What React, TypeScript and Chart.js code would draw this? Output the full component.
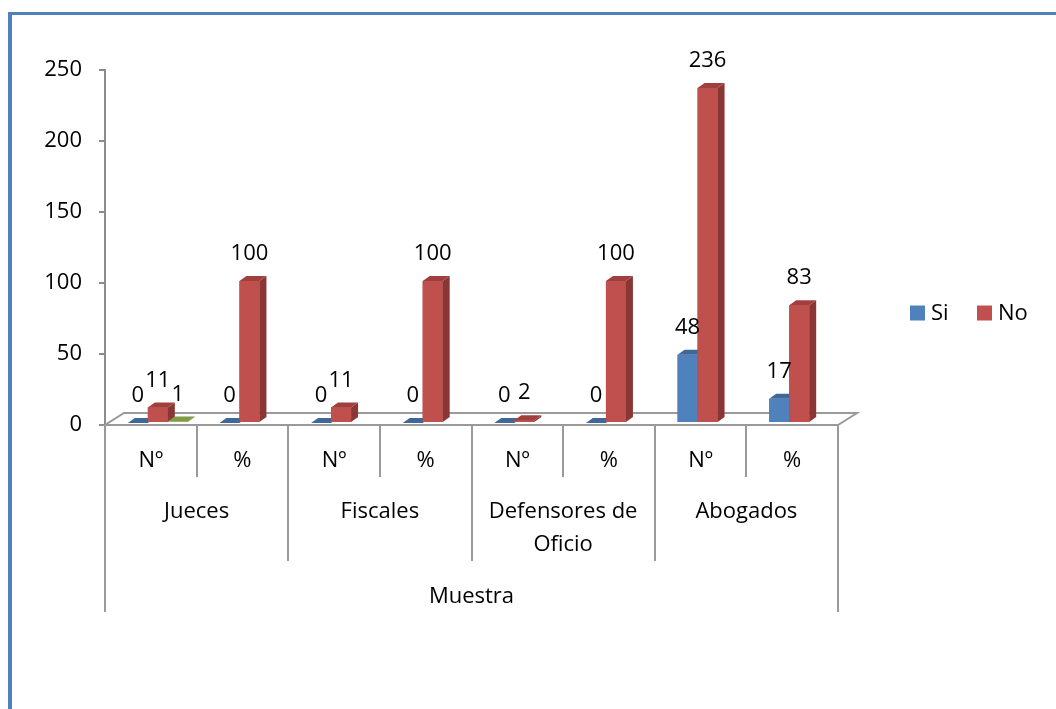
import React, { useEffect, useRef } from "react";
import { Chart, registerables } from "chart.js";

Chart.register(...registerables);

// ---- data ----
const subCategories = ["Nº", "%", "Nº", "%", "Nº", "%", "Nº", "%"];
const groupLabels: string[][] = [["Jueces"], ["Fiscales"], ["Defensores de", "Oficio"], ["Abogados"]];
const topLabel = "Muestra";
const seriesNames = ["Si", "No", ""];
const siValues = [0, 0, 0, 0, 0, 0, 48, 17];
const noValues = [11, 100, 11, 100, 2, 100, 236, 83];
const thirdValues: (number | null)[] = [1, null, null, null, null, null, null, null];
const yMin = 0;
const yMax = 250;
const yStep = 50;

// ---- styles ----
const FONT = '"Open Sans", "Liberation Sans", sans-serif';
const FONT_SIZE = 22;
const AXIS_GRAY = "#8c8c8c";
const faceColors = [
  { front: "#4F81BD", side: "#36598A", top: "#3F6798" },
  { front: "#C0504D", side: "#8A3634", top: "#A0403E" },
  { front: "#9BBB59", side: "#6F8A3C", top: "#7E9B45" },
];
const BAR_DX = 7;
const BAR_DY = -5;
const SHIFT_X = 7;
const SHIFT_Y = -2;
const FLOOR_DX = 19;
const FLOOR_DY = -12;

const threeDPlugin = {
  id: "threeD",
  beforeDatasetsDraw(chart: any) {
    const { ctx, chartArea } = chart;
    const { left, right, bottom } = chartArea;
    ctx.save();
    ctx.beginPath();
    ctx.moveTo(left, bottom);
    ctx.lineTo(right, bottom);
    ctx.lineTo(right + FLOOR_DX, bottom + FLOOR_DY);
    ctx.lineTo(left + FLOOR_DX, bottom + FLOOR_DY);
    ctx.closePath();
    ctx.fillStyle = "#ffffff";
    ctx.fill();
    ctx.strokeStyle = "#9a9a9a";
    ctx.lineWidth = 2;
    ctx.stroke();
    ctx.restore();
    ctx.save();
    ctx.translate(SHIFT_X, SHIFT_Y);
  },
  afterDatasetsDraw(chart: any) {
    const { ctx } = chart;
    const n = chart.data.labels.length;
    const nd = chart.data.datasets.length;
    const tops: { x: number; top: number; v: number }[] = [];
    for (let i = 0; i < n; i++) {
      for (let d = 0; d < nd; d++) {
        const v = chart.data.datasets[d].data[i];
        if (v === null || v === undefined) continue;
        const el = chart.getDatasetMeta(d).data[i];
        if (!el) continue;
        const { x, y, base, width } = el.getProps(["x", "y", "base", "width"], true);
        const l = x - width / 2;
        const r = x + width / 2;
        const top = Math.min(y, base);
        const bot = Math.max(y, base);
        const c = faceColors[d];
        ctx.fillStyle = c.front;
        ctx.fillRect(l, top, r - l, bot - top);
        ctx.beginPath();
        ctx.moveTo(r, top);
        ctx.lineTo(r + BAR_DX, top + BAR_DY);
        ctx.lineTo(r + BAR_DX, bot + BAR_DY);
        ctx.lineTo(r, bot);
        ctx.closePath();
        ctx.fillStyle = c.side;
        ctx.fill();
        ctx.beginPath();
        ctx.moveTo(l, top);
        ctx.lineTo(l + BAR_DX, top + BAR_DY);
        ctx.lineTo(r + BAR_DX, top + BAR_DY);
        ctx.lineTo(r, top);
        ctx.closePath();
        ctx.fillStyle = c.top;
        ctx.fill();
        tops.push({ x, top, v });
      }
    }
    ctx.font = `${FONT_SIZE}px ${FONT}`;
    ctx.fillStyle = "#000";
    ctx.textAlign = "center";
    ctx.textBaseline = "middle";
    for (const t of tops) ctx.fillText(String(t.v), t.x, t.top - 27);
    ctx.restore();
  },
  afterDraw(chart: any) {
    const { ctx, chartArea } = chart;
    const xs = chart.scales.x;
    const n = subCategories.length;
    const bottom = chartArea.bottom;
    const bounds: number[] = [];
    for (let i = 0; i <= n; i++) {
      if (i === 0) bounds.push(xs.left);
      else if (i === n) bounds.push(xs.right);
      else bounds.push((xs.getPixelForValue(i - 1) + xs.getPixelForValue(i)) / 2);
    }
    ctx.save();
    ctx.strokeStyle = "#9a9a9a";
    ctx.lineWidth = 2;
    const perGroup = n / groupLabels.length;
    bounds.forEach((bx, i) => {
      let end = bottom + 52;
      if (i === 0 || i === n) end = bottom + 187;
      else if (i % perGroup === 0) end = bottom + 136;
      ctx.beginPath();
      ctx.moveTo(Math.round(bx), bottom);
      ctx.lineTo(Math.round(bx), end);
      ctx.stroke();
    });
    ctx.font = `${FONT_SIZE}px ${FONT}`;
    ctx.fillStyle = "#000";
    ctx.textAlign = "center";
    ctx.textBaseline = "middle";
    subCategories.forEach((lab, i) => {
      ctx.fillText(lab, xs.getPixelForValue(i), bottom + 36);
    });
    groupLabels.forEach((lines, g) => {
      const cx = (bounds[g * perGroup] + bounds[(g + 1) * perGroup]) / 2;
      lines.forEach((ln, k) => ctx.fillText(ln, cx, bottom + 87 + k * 33));
    });
    ctx.fillText(topLabel, (bounds[0] + bounds[n]) / 2, bottom + 172);

    const lx = chartArea.right + 72;
    const ly = bottom - 112;
    let x = lx;
    ctx.textAlign = "left";
    chart.data.datasets.forEach((ds: any, d: number) => {
      if (!ds.label) return;
      ctx.fillStyle = faceColors[d].front;
      ctx.fillRect(x, ly - 7.5, 15, 15);
      ctx.fillStyle = "#000";
      ctx.fillText(ds.label, x + 21, ly + 1);
      x += 67;
    });
    ctx.restore();
  },
};

export default function App() {
  const ref = useRef<HTMLCanvasElement | null>(null);
  useEffect(() => {
    if (!ref.current) return;
    const chart = new Chart(ref.current, {
      type: "bar",
      data: {
        labels: subCategories,
        datasets: [
          { label: seriesNames[0], data: siValues, backgroundColor: faceColors[0].front },
          { label: seriesNames[1], data: noValues, backgroundColor: faceColors[1].front },
          { label: seriesNames[2], data: thirdValues, backgroundColor: faceColors[2].front },
        ],
      },
      options: {
        responsive: false,
        animation: false,
        layout: { padding: { left: 0, top: 70, right: 218, bottom: 284 } },
        datasets: { bar: { categoryPercentage: 0.655, barPercentage: 1.0 } },
        plugins: { legend: { display: false }, tooltip: { enabled: false } },
        scales: {
          x: { display: false },
          y: {
            min: yMin,
            max: yMax,
            ticks: {
              stepSize: yStep,
              color: "#000",
              font: { family: FONT, size: FONT_SIZE },
              padding: 17,
            },
            grid: {
              drawOnChartArea: false,
              drawTicks: true,
              tickLength: 6,
              color: AXIS_GRAY,
              lineWidth: 2,
            },
            border: { display: true, color: AXIS_GRAY, width: 2 },
            afterFit: (scale: any) => {
              scale.width = 105;
            },
          },
        },
      },
      plugins: [threeDPlugin],
    } as any);
    return () => chart.destroy();
  }, []);
  return (
    <div style={{ position: "absolute", left: 0, top: 0, width: 1056, height: 709, background: "#fff" }}>
      <div
        style={{
          position: "absolute",
          left: 8,
          top: 12,
          right: 0,
          bottom: 0,
          borderLeft: "4px solid #4F81BD",
          borderTop: "3px solid #4F81BD",
        }}
      />
      <canvas ref={ref} width={1056} height={709} style={{ position: "absolute", left: 0, top: 0 }} />
    </div>
  );
}
